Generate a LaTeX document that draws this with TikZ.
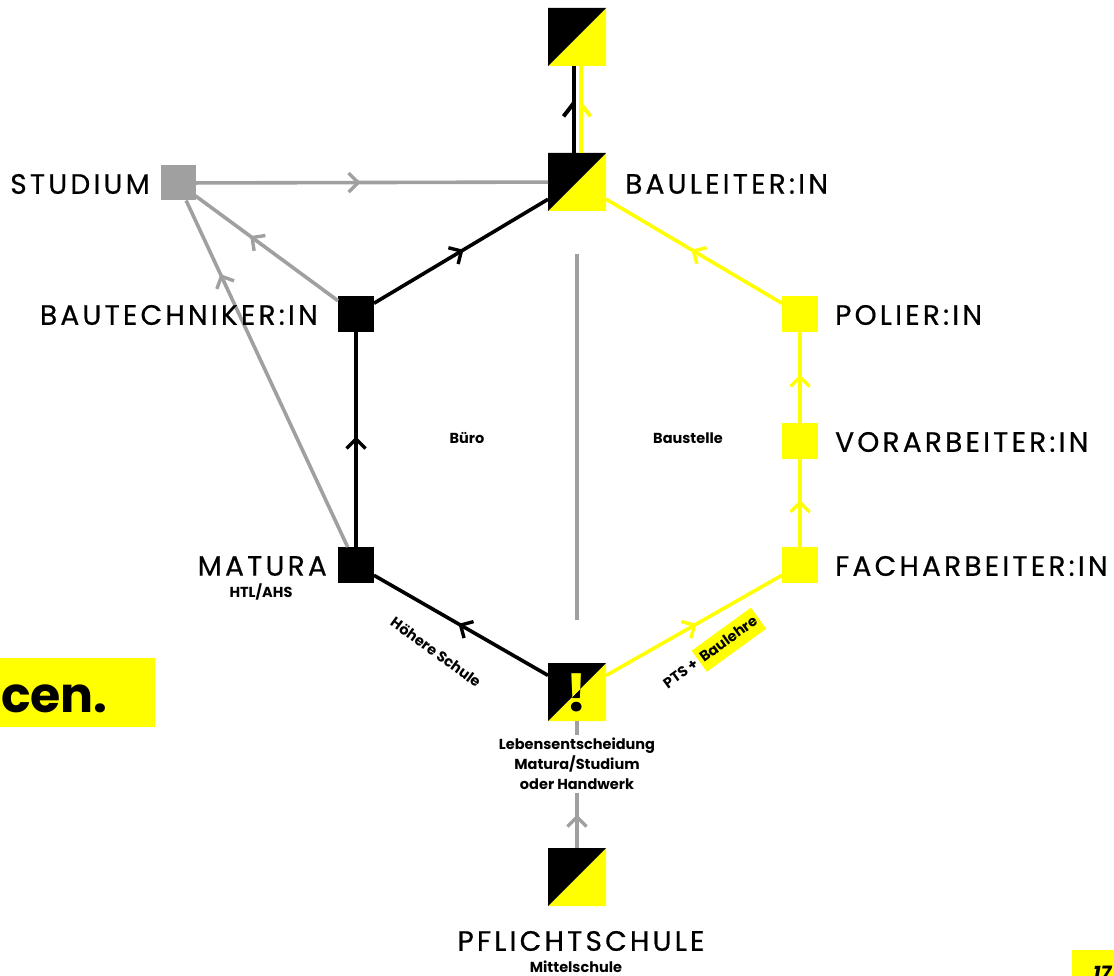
\documentclass[tikz,border=0pt]{standalone}
\usepackage{fontspec}
\setmainfont{Poppins}
\usetikzlibrary{decorations.markings,calc}
\definecolor{yel}{HTML}{FFFF00}
\definecolor{gr}{HTML}{A0A0A0}
\begin{document}
\begin{tikzpicture}[x=1pt,y=-1pt,
  sq/.style={rectangle, minimum size=#1, inner sep=0pt, outer sep=0pt},
  blk/.style={sq=36, fill=black},
  ylw/.style={sq=36, fill=yel},
  gry/.style={sq=35, fill=gr},
  diag/.style={sq=58, path picture={
     \fill[yel] (path picture bounding box.north east) -- (path picture bounding box.south east) -- (path picture bounding box.south west) -- cycle;
     \fill[black] (path picture bounding box.north west) -- (path picture bounding box.north east) -- (path picture bounding box.south west) -- cycle;}},
  conn/.style={line width=3.6pt},
  mid/.style={postaction={decorate}, decoration={markings, mark=at position #1 with {\draw[line width=3.4pt] (-9,-9.5) -- (0.5,0) -- (-9,9.5);}}},
  caplabel/.style={font=\fontsize{28}{28}\selectfont\addfontfeature{LetterSpace=11.5,FakeBold=0.6}, inner sep=0pt},
  smalltxt/.style={font=\bfseries\fontsize{14.5}{20}\selectfont, inner sep=1pt, align=center},
]
\useasboundingbox (0,0) rectangle (1114,976);
\clip (0,0) rectangle (1114,976);

% squares
\node[diag] (top) at (577,37) {};
\node[diag] (bl) at (577,182) {};
\node[gry] (st) at (178,183) {};
\node[blk] (bt) at (356,314) {};
\node[blk] (ma) at (356,565) {};
\node[diag] (ex) at (577,692) {};
\node[diag] (ps) at (577,877) {};
\node[ylw] (po) at (800,314) {};
\node[ylw] (vo) at (800,441) {};
\node[ylw] (fa) at (800,565) {};

% exclamation mark, two-coloured
\begin{scope}
  \clip (ex.north west) -- (ex.north east) -- (ex.south west) -- cycle;
  \node[text=yel, font=\bfseries\fontsize{52}{52}\selectfont, inner sep=0pt] (exa) at ([yshift=-1]ex.center) {!};
\end{scope}
\begin{scope}
  \clip (ex.north east) -- (ex.south east) -- (ex.south west) -- cycle;
  \node[text=black, font=\bfseries\fontsize{52}{52}\selectfont, inner sep=0pt] (exb) at ([yshift=-1]ex.center) {!};
\end{scope}

% divider
\coordinate (d1) at (577,254);
\coordinate (d2) at (577,620);
\draw[gr, line width=3.4pt] (d1) -- (d2);

% gray connectors
\draw[gr, conn, mid=0.46] (st) -- (bl);
\draw[gr, conn, mid=0.6] (bt) -- (st);
\draw[gr, conn, mid=0.78] (ma) -- (st);
\draw[gr, conn, mid=0.24] (ps) -- (ex);

% black connectors
\draw[black, conn, mid=0.5] (ma) -- (bt);
\draw[black, conn, mid=0.5] (bt) -- (bl);
\draw[black, conn, mid=0.5] (ex) -- (ma);

% yellow connectors
\draw[yel, conn, mid=0.5] (ex) -- (fa);
\draw[yel, conn, mid=0.5] (fa) -- (vo);
\draw[yel, conn, mid=0.5] (vo) -- (po);
\draw[yel, conn, mid=0.5] (po) -- (bl);

% double line to top
\draw[black, line width=4pt] ([xshift=-3.5]bl.north) -- ([xshift=-3.5]top.south);
\draw[yel, line width=4pt] ([xshift=3.5]bl.north) -- ([xshift=3.5]top.south);
\coordinate (tipb) at ($([xshift=-3.5]bl.north)!0.57!([xshift=-3.5]top.south)$);
\coordinate (tipy) at ($([xshift=3.5]bl.north)!0.57!([xshift=3.5]top.south)$);
\draw[black, line width=4pt] ([shift={(-10,13)}]tipb) -- (tipb);
\draw[yel, line width=4pt] ([shift={(10,13)}]tipy) -- (tipy);

% labels
\node[caplabel, anchor=east] (lst) at (150,184) {STUDIUM};
\node[caplabel, anchor=east] (lbt) at (318,315) {BAUTECHNIKER:IN};
\node[caplabel, anchor=east] (lma) at (327,566) {MATURA};
\node[smalltxt, anchor=center] (lma2) at (261,592) {HTL/AHS};
\node[caplabel, anchor=west] (lbl) at (625,184) {BAULEITER:IN};
\node[caplabel, anchor=west] (lpo) at (835,315) {POLIER:IN};
\node[caplabel, anchor=west] (lvo) at (835,442) {VORARBEITER:IN};
\node[caplabel, anchor=west] (lfa) at (835,566) {FACHARBEITER:IN};
\node[caplabel] (lps) at (581,941) {PFLICHTSCHULE};
\node[smalltxt] (lps2) at (576,967) {Mittelschule};
\node[smalltxt, fill=white, inner sep=3pt] (lex) at (577,764) {Lebensentscheidung\\Matura/Studium\\oder Handwerk};
\node[smalltxt] (lbu) at (467,438) {Büro};
\node[smalltxt] (lba) at (688,438) {Baustelle};
\node[smalltxt, rotate=-36] (lhs) at (436,652) {Höhere Schule};
\node[smalltxt, rotate=36] (lpts) at (712,652) {PTS + \colorbox{yel}{\strut Baulehre}};

% side elements
\fill[yel] (0,658) rectangle (155,727);
\node[font=\bfseries\fontsize{49}{49}\selectfont, anchor=base east, inner sep=0pt] (cen) at (108,712) {cen.};
\fill[yel] (1072,950) rectangle (1114,976);
\node[font=\bfseries\itshape\fontsize{20}{20}\selectfont, anchor=north west, inner sep=0pt] (pg) at (1093,966) {17};
\end{tikzpicture}
\end{document}
